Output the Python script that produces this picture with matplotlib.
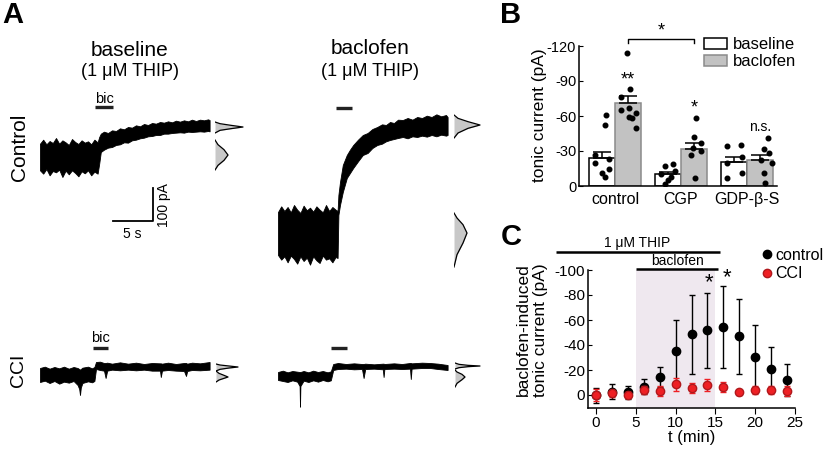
import numpy as np
import matplotlib
matplotlib.use('Agg')
import matplotlib.pyplot as plt
from matplotlib.patches import Patch
from matplotlib.lines import Line2D

plt.rcParams['font.family'] = ['Liberation Sans', 'DejaVu Sans']
plt.rcParams['axes.unicode_minus'] = False

#--------------- panel A: trace envelopes (t in s, current in pA) -----------------#
# control, baseline
cb_t = [0.0, 0.4, 0.8, 1.2, 1.6, 2.0, 2.4, 2.8, 3.2, 3.6, 4.0, 4.4, 4.8, 5.2, 5.6, 6.0, 6.4, 6.8, 7.2, 7.4,
        7.6, 8.0, 8.5, 9.0, 9.5, 10.0, 10.5, 11.0, 11.5, 12.0, 12.5, 13.0, 13.5, 14.0, 14.5, 15.0, 15.5,
        16.0, 16.5, 17.0, 17.5, 18.0, 18.5, 19.0, 19.5, 20.0, 20.5, 21.0, 21.2]
cb_top = [40, 52, 38, 48, 42, 57, 40, 50, 44, 36, 54, 45, 39, 50, 43, 47, 38, 52, 44, 60,
          70, 76, 72, 80, 78, 86, 83, 90, 88, 95, 92, 99, 96, 102, 100, 105, 103,
          107, 104, 109, 106, 110, 107, 112, 108, 112, 110, 113, 111]
cb_bot = [-40, -50, -36, -55, -42, -46, -38, -60, -41, -52, -40, -48, -58, -43, -49, -40, -55, -44, -50, -20,
          15, 22, 28, 30, 36, 38, 44, 43, 50, 52, 56, 58, 62, 63, 66, 66, 70,
          70, 72, 73, 74, 73, 76, 75, 76, 77, 76, 78, 77]
# control, baclofen
cf_t = [0.0, 0.4, 0.8, 1.2, 1.6, 2.0, 2.4, 2.8, 3.2, 3.6, 4.0, 4.4, 4.8, 5.2, 5.6, 6.0, 6.4, 6.8, 7.2, 7.45,
        7.55, 7.75, 8.1, 8.6, 9.0, 9.4, 10.0, 10.6, 11.2, 11.8, 12.4, 13.0, 13.5, 14.0, 14.5, 15.0, 15.6,
        16.2, 16.8, 17.4, 18.0, 18.6, 19.2, 19.8, 20.4, 21.0, 21.2]
cf_top = [63, 80, 66, 78, 62, 84, 70, 60, 82, 68, 76, 64, 80, 70, 62, 84, 66, 78, 70, 66,
          114, 153, 204, 234, 250, 264, 280, 294, 300, 312, 318, 326, 324, 333, 330, 340, 339,
          345, 340, 348, 345, 352, 348, 356, 350, 354, 348]
cf_bot = [-66, -80, -70, -88, -68, -78, -92, -70, -84, -74, -95, -70, -82, -90, -68, -80, -76, -88, -72, -75,
          54, 84, 123, 165, 180, 195, 215, 234, 240, 255, 264, 268, 275, 279, 282, 285, 288,
          284, 290, 288, 292, 289, 294, 290, 295, 292, 294]
# CCI, baseline
ib_t = [0.0, 0.6, 1.2, 1.8, 2.4, 3.0, 3.6, 4.2, 4.7, 4.9, 5.0, 5.1, 5.3, 6.0, 6.5, 6.8,
        7.0, 7.5, 8.0, 8.2, 8.4, 9.0, 10.0, 11.0, 12.0, 13.0, 14.0, 15.0, 15.1, 15.25,
        16.0, 17.0, 18.0, 18.25, 18.4, 19.0, 20.0, 21.2]
ib_top = [21, 25, 19, 24, 20, 25, 19, 24, 21, 18, 16, 18, 22, 25, 20, 24,
          39, 40, 36, 36, 37, 34, 38, 34, 37, 33, 36, 35, 35, 34,
          37, 33, 36, 36, 34, 37, 35, 39]
ib_bot = [-21, -17, -24, -18, -26, -20, -23, -18, -30, -42, -60, -38, -24, -19, -22, -18,
          18, 15, 13, -9, 13, 16, 14, 16, 14, 16, 13, 13, -6, 13,
          15, 13, 12, -3, 12, 15, 14, 16]
# CCI, baclofen
if_t = [0.0, 0.6, 1.2, 1.8, 2.4, 2.7, 2.75, 2.8, 3.2, 3.8, 4.4, 5.0, 5.6, 6.2, 6.6,
        6.9, 7.5, 8.5, 9.5, 10.5, 10.7, 10.9, 12.0, 13.1, 13.2, 13.3, 14.5, 15.5, 16.5, 16.6,
        16.7, 18.0, 19.0, 20.0, 21.2]
if_top = [12, 16, 11, 15, 13, 12, 12, 12, 15, 11, 16, 12, 15, 11, 14,
          36, 39, 36, 38, 36, 36, 37, 35, 37, 37, 36, 38, 36, 39, 39,
          38, 40, 39, 37, 33]
if_bot = [-12, -15, -18, -13, -17, -30, -92, -30, -14, -18, -13, -17, -12, -16, -13,
          18, 21, 22, 20, 21, -6, 21, 22, 20, -3, 21, 22, 21, 22, -9,
          22, 24, 24, 21, 18]

# all-points histograms (current pA, counts)
hist = {
    'cb_pre': ([-39, -25, -10, 6, 22, 37, 51], [0, 3, 9, 13, 9, 3, 0]),
    'cb_post': ([72, 80, 85, 90, 95, 100, 105], [0, 5, 16, 28, 16, 5, 0]),
    'cf_pre': ([-102, -65, -30, 0, 25, 45, 60], [0, 3, 9, 13, 9, 3, 0]),
    'cf_post': ([285, 300, 314, 324, 334, 344, 354], [0, 4, 14, 26, 14, 4, 0]),
    'ib_pre': ([-21, -15, -10, -6, -1, 5, 12], [0, 3, 8, 12, 8, 3, 0]),
    'ib_post': ([12, 17, 21, 24, 27, 30, 33], [0, 4, 13, 22, 13, 4, 0]),
    'if_pre': ([-33, -22, -11, -3, 5, 12, 18], [0, 2, 7, 10, 7, 2, 0]),
    'if_post': ([21, 25, 28, 30, 32, 35, 39], [0, 4, 13, 25, 13, 4, 0]),
}

#--------------- panel B -----------------#
groups = ['control', 'CGP', 'GDP-β-S']
base_mean = [-24, -10, -21]
base_sem = [5, 2, 4]
bac_mean = [-71, -32, -22]
bac_sem = [6, 5, 4.5]
base_dots = [[-61, -52, -27, -23, -20, -15, -11, -8],
             [-19, -17, -13, -10, -8, -5, -2],
             [-35, -34, -25, -19.5, -11, -7]]
bac_dots = [[-114, -83, -76, -67, -65, -63, -59, -58, -50],
            [-58, -42, -37, -33, -30, -27, -7],
            [-41, -32, -28, -22, -20, -11, -2.5]]
base_jit = [[0.06, 0.05, -0.1, 0.1, -0.1, 0.1, 0.0, 0.05],
            [0.08, -0.05, 0.1, -0.1, 0.05, 0.0, -0.05],
            [0.1, -0.1, 0.12, -0.1, 0.12, -0.1]]
bac_jit = [[-0.02, 0.03, -0.1, 0.02, -0.1, 0.12, 0.02, 0.06, 0.12],
           [0.03, 0.0, 0.1, -0.02, 0.1, -0.05, 0.02],
           [0.12, 0.06, 0.14, 0.02, 0.18, 0.06, 0.08]]

#--------------- panel C -----------------#
t_min = [0, 2, 4, 6, 8, 10, 12, 14, 16, 18, 20, 22, 24]
ctl_mean = [0, -2.7, -2.1, -6.7, -14.7, -35.2, -48.5, -52, -54.4, -47.2, -30.7, -20.8, -12]
ctl_sem = [6, 6, 5.5, 6, 8, 25, 31.5, 30, 33, 30, 25, 18, 12.5]
cci_mean = [0, -1.3, 0, -4, -3.5, -8.5, -5.9, -8, -6.7, -2.1, -4, -4, -3.5]
cci_sem = [5, 2.5, 2.5, 3, 4, 5, 4, 5, 4, 2, 3, 3, 4]

#--------------- layout helpers -----------------#
W, H = 828, 449
fig = plt.figure(figsize=(W / 100, H / 100), dpi=100)


def box(x0, y0, x1, y1):
    return [x0 / W, 1 - y1 / H, (x1 - x0) / W, (y1 - y0) / H]


def ftext(x, y, s, **kw):
    fig.text(x / W, 1 - y / H, s, ha='center', va='center', **kw)


PX_S, PX_PA = 8.0, 1 / 3.0   # pixels per s, pixels per pA
YLO, YHI = -250, 450


def trace_ax(x0, y0):
    ax = fig.add_axes(box(x0, y0 - YHI * PX_PA, x0 + 21.25 * PX_S, y0 - YLO * PX_PA))
    ax.set_xlim(0, 21.25)
    ax.set_ylim(YLO, YHI)
    ax.axis('off')
    return ax


def hist_ax(x0, y0, pre, post):
    ax = fig.add_axes(box(x0, y0 - YHI * PX_PA, x0 + 35, y0 - YLO * PX_PA))
    ax.set_xlim(0, 35)
    ax.set_ylim(YLO, YHI)
    ax.axis('off')
    for key in (pre, post):
        cur, cnt = hist[key]
        ax.fill_betweenx(cur, 0, cnt, color='#c8c8c8', lw=0)
        ax.plot([0] + cnt + [0], [cur[0]] + cur + [cur[-1]], color='black', lw=0.9)
    return ax


#--------------- panel A -----------------#
traces = [(40, 157, cb_t, cb_top, cb_bot, 215, 'cb'),
          (278, 233, cf_t, cf_top, cf_bot, 454, 'cf'),
          (40, 375, ib_t, ib_top, ib_bot, 216, 'ib'),
          (278, 376, if_t, if_top, if_bot, 455, 'if')]
tax = {}
for x0, y0, t, top, bot, xh, key in traces:
    ax = trace_ax(x0, y0)
    ax.fill_between(t, bot, top, color='black', lw=0.6, edgecolor='black')
    hist_ax(xh, y0, key + '_pre', key + '_post')
    tax[key] = ax

# drug application bars
tax['cb'].plot([6.9, 9.1], [150, 150], color='#222222', lw=2.4, solid_capstyle='butt')
tax['cb'].text(8.0, 174, 'bic', ha='center', va='center', fontsize=10.5)
tax['cf'].plot([7.25, 9.25], [375, 375], color='#222222', lw=2.4, solid_capstyle='butt')
tax['ib'].plot([6.6, 8.5], [81, 81], color='#222222', lw=2.4, solid_capstyle='butt')
tax['ib'].text(7.6, 111, 'bic', ha='center', va='center', fontsize=10.5)
tax['if'].plot([6.6, 8.6], [84, 84], color='#222222', lw=2.4, solid_capstyle='butt')

# scale bar: 5 s, 100 pA
sb = tax['cb']
sb.plot([14.1 - 5, 14.1, 14.1], [-192, -192, -192 + 100], color='black', lw=1.3, clip_on=False)
sb.text(11.5, -231, '5 s', ha='center', va='center', fontsize=10)
sb.text(15.5, -144, '100 pA', ha='center', va='center', fontsize=10, rotation=90)

ftext(13, 15, 'A', fontsize=21, fontweight='bold')
ftext(130, 50, 'baseline', fontsize=15)
ftext(130, 71, '(1 μM THIP)', fontsize=13)
ftext(370, 48, 'baclofen', fontsize=15)
ftext(370, 71, '(1 μM THIP)', fontsize=13)
ftext(20, 147, 'Control', fontsize=15, rotation=90)
ftext(19, 370, 'CCI', fontsize=14, rotation=90)

#--------------- panel B -----------------#
axB = fig.add_axes(box(579, 46, 777, 186))
x = np.arange(len(groups))
off, w = 0.197, 0.394
axB.bar(x - off, base_mean, w, color='white', edgecolor='black', lw=1.1, zorder=1)
axB.bar(x + off, bac_mean, w, color='#c2c2c2', edgecolor='#8a8a8a', lw=1.1, zorder=1)
axB.errorbar(x - off, base_mean, yerr=[base_sem, [0] * 3], fmt='none', ecolor='black',
             elinewidth=1.1, capsize=6.5, capthick=1.1, zorder=2)
axB.errorbar(x + off, bac_mean, yerr=[bac_sem, [0] * 3], fmt='none', ecolor='black',
             elinewidth=1.1, capsize=6.5, capthick=1.1, zorder=2)
for i in range(len(groups)):
    axB.plot(x[i] - off + np.array(base_jit[i]), base_dots[i], 'o', color='black', ms=3.3, zorder=3)
    axB.plot(x[i] + off + np.array(bac_jit[i]), bac_dots[i], 'o', color='black', ms=3.3, zorder=3)
axB.set_xlim(-0.545, 2.455)
axB.set_ylim(0, -120)
axB.set_yticks([0, -30, -60, -90, -120])
axB.set_xticks(x)
axB.set_xticklabels(groups, fontsize=11.5)
axB.tick_params(axis='x', length=0, pad=4)
axB.tick_params(axis='y', labelsize=10.5, length=3, direction='in', pad=2)
for s in ['top', 'right']:
    axB.spines[s].set_visible(False)
for s in ['left', 'bottom']:
    axB.spines[s].set_linewidth(1.1)
# significance marks
axB.text(0.2, -91, '**', ha='center', va='center', fontsize=13)
axB.text(1.2, -67, '*', ha='center', va='center', fontsize=13)
axB.text(2.2, -50.6, 'n.s.', ha='center', va='center', fontsize=10)
axB.plot([0.2, 0.2, 1.2, 1.2], [-122.6, -126, -126, -122.6], color='black', lw=1, clip_on=False)
axB.text(0.7, -133, '*', ha='center', va='center', fontsize=13)
ftext(540, 115, 'tonic current (pA)', fontsize=12.5, rotation=90)
ftext(511, 15, 'B', fontsize=21, fontweight='bold')
handles = [Patch(facecolor='white', edgecolor='black', lw=1.1, label='baseline'),
           Patch(facecolor='#c2c2c2', edgecolor='#8a8a8a', lw=1.1, label='baclofen')]
axB.legend(handles=handles, loc='upper left', bbox_to_anchor=(704 / W, 1 - 37 / H),
           bbox_transform=fig.transFigure, frameon=False, fontsize=12, borderpad=0,
           borderaxespad=0, handlelength=1.4, handleheight=0.65, handletextpad=0.35,
           labelspacing=0.15)

#--------------- panel C -----------------#
axC = fig.add_axes(box(588, 270, 795, 408))
axC.axvspan(5, 15, color='#efe8ef', lw=0, zorder=0)
axC.errorbar(t_min, ctl_mean, yerr=ctl_sem, fmt='o', color='black', ms=6, elinewidth=1,
             capsize=2.5, capthick=1, zorder=3)
axC.errorbar(t_min, cci_mean, yerr=cci_sem, fmt='o', color='#ee2024', mec='#b0181c', ms=6,
             elinewidth=1, capsize=2.5, capthick=1, zorder=4)
axC.set_xlim(-1, 25)
axC.set_ylim(10.4, -100)
axC.set_xticks([0, 5, 10, 15, 20, 25])
axC.set_yticks([0, -20, -40, -60, -80, -100])
axC.tick_params(axis='x', labelsize=11, length=4, pad=2)
axC.tick_params(axis='y', labelsize=11, length=3, direction='in', pad=2)
for s in ['top', 'right']:
    axC.spines[s].set_visible(False)
for s in ['left', 'bottom']:
    axC.spines[s].set_linewidth(1.1)
axC.plot([5, 15.3], [-101, -101], color='black', lw=1.8, clip_on=False, solid_capstyle='butt')
axC.text(10.2, -107, 'baclofen', ha='center', va='center', fontsize=10)
axC.plot([-5, 15.6], [-114.4, -114.4], color='black', lw=1.8, clip_on=False, solid_capstyle='butt')
axC.text(5.2, -121.6, '1 μM THIP', ha='center', va='center', fontsize=10)
axC.text(14.2, -90, '*', ha='center', va='center', fontsize=16)
axC.text(16.5, -94, '*', ha='center', va='center', fontsize=16)
axC.set_xlabel('t (min)', fontsize=12, labelpad=0)
ftext(532, 330, 'baclofen-induced\ntonic current (pA)', fontsize=12.5, rotation=90, linespacing=1.1)
ftext(511, 237, 'C', fontsize=21, fontweight='bold')
handlesC = [Line2D([], [], marker='o', ls='none', color='black', ms=6, label='control'),
            Line2D([], [], marker='o', ls='none', color='#ee2024', mec='#b0181c', ms=6, label='CCI')]
axC.legend(handles=handlesC, loc='upper left', bbox_to_anchor=(762 / W, 1 - 248 / H),
           bbox_transform=fig.transFigure, frameon=False, fontsize=11.5, borderpad=0,
           borderaxespad=0, handlelength=0.6, handletextpad=0.25, labelspacing=0.2)

plt.savefig('out.png', dpi=100)
